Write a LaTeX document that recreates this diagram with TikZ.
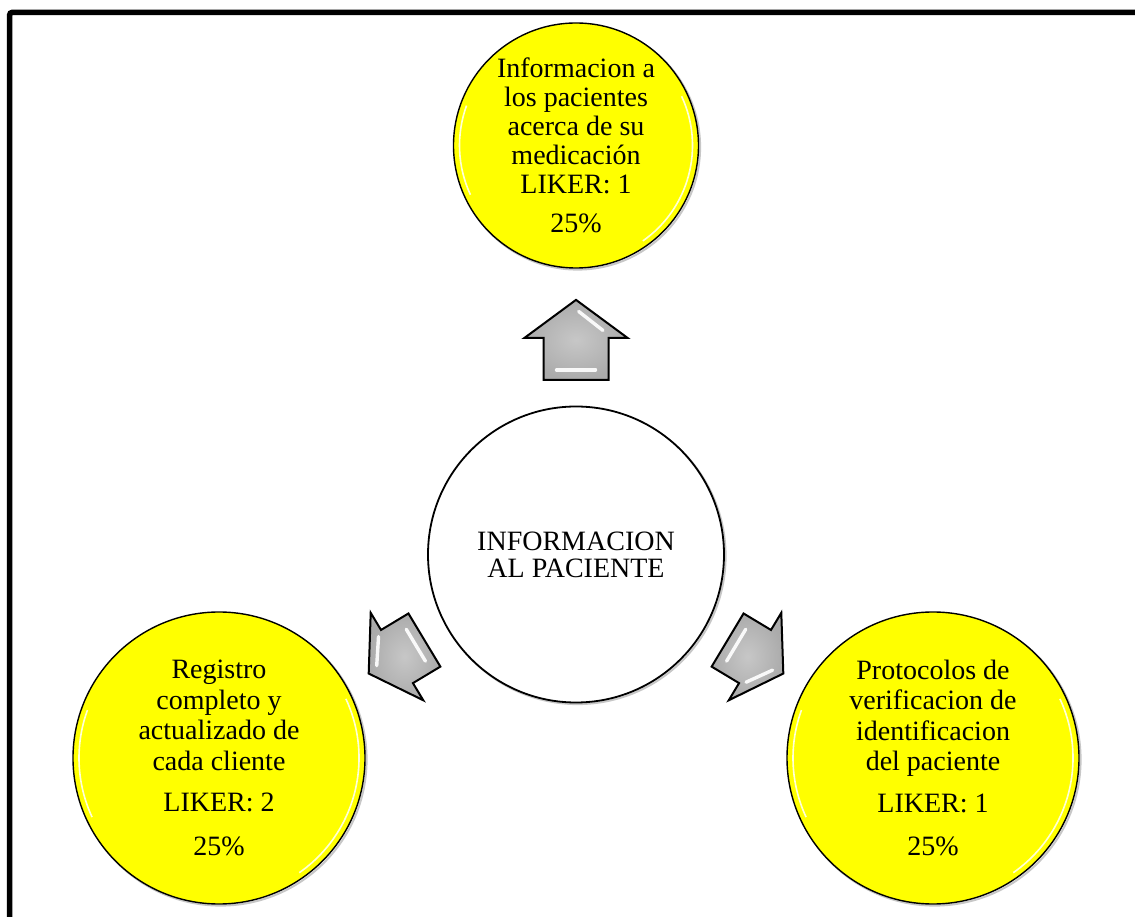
\documentclass[tikz,border=0pt]{standalone}
\usepackage{fontspec}
\setmainfont{Liberation Serif}
\usetikzlibrary{calc}

\definecolor{bulb}{RGB}{255,255,0}

\tikzset{
  x=1pt, y=1pt,
  softshadow/.style={preaction={draw=black!22, line width=2pt,
      transform canvas={xshift=1.6pt, yshift=-1.6pt}}},
  bubble/.style={circle, draw=black, line width=1.4pt, fill=bulb,
      inner sep=0pt, align=center, softshadow,
      font=\fontsize{28}{30.5}\selectfont},
  hubcircle/.style={circle, draw=black, line width=1.8pt, fill=white,
      inner sep=0pt, align=center, softshadow,
      font=\fontsize{28}{27}\selectfont},
  arrowbody/.style={draw=black, line width=2pt,
      inner color=black!22, outer color=black!33},
  glint/.style={white, line width=3.4pt, line cap=round, opacity=0.92},
  rim/.style={white, line width=1.6pt, opacity=0.85},
  frame/.style={draw=black, line width=5.5pt, rounded corners=3pt},
  % block arrow pointing along +x, centred on the pic origin
  % #1 length, #2 head length, #3 head half width, #4 shaft half width
  pics/blockarrow/.style n args={4}{code={
    \path[arrowbody] ({#1/2},0) -- ({#1/2-#2},{#3}) -- ({#1/2-#2},{#4})
      -- ({-#1/2},{#4}) -- ({-#1/2},{-#4}) -- ({#1/2-#2},{-#4})
      -- ({#1/2-#2},{-#3}) -- cycle;
    \draw[glint] ({#1/2-0.12*#2-7},{-0.12*#3+3.5})
      -- ({#1/2-0.62*#2-7},{-0.62*#3+5});
    \draw[glint] ({-#1/2+10},{-0.6*#4}) -- ({-#1/2+10},{0.6*#4});
  }}
}

\begin{document}
\begin{tikzpicture}
\useasboundingbox (0,0) rectangle (1135,916);
\clip (0,0) rectangle (1135,916);

% outer frame (runs past the right and bottom edges)
\draw[frame] (9.5,-40) rectangle (1180,903.7);

% central topic
\node[hubcircle, minimum size=296pt] (hub) at (576,361.5)
  {INFORMACION\\AL PACIENTE};

% the three outcomes
\node[bubble, minimum size=245pt, font=\fontsize{28}{29}\selectfont] (top) at (576,770.5)
  {Informacion a\\los pacientes\\acerca de su\\medicación\\LIKER: 1\\[10pt]25\%};
\node[bubble, minimum size=292pt] (left) at (219,158)
  {Registro\\completo y\\actualizado de\\cada cliente\\[11pt]LIKER: 2\\[13pt]25\%};
\node[bubble, minimum size=292pt] (right) at (933,158)
  {Protocolos de\\verificacion de\\identificacion\\del paciente\\[11pt]LIKER: 1\\[13pt]25\%};

% light rims inside the yellow circles
\foreach \c/\r in {top/116.5, left/140, right/140}{
  \draw[rim] ([shift={(160:\r)}]\c.center) arc[start angle=160, end angle=205, radius=\r];
  \draw[rim] ([shift={(-55:\r)}]\c.center) arc[start angle=-55, end angle=25, radius=\r];
}

% block arrows from the centre to each outcome
\path ($(hub.north)!0.48!(top.south)$) pic[rotate=90] {blockarrow={80}{38}{51.5}{32.5}};
\path ($(hub.210)!0.5!(left.30)$) pic[rotate=211] {blockarrow={65}{33}{51}{31}};
\path ($(hub.330)!0.5!(right.150)$) pic[rotate=329] {blockarrow={65}{33}{51}{31}};
\end{tikzpicture}
\end{document}
